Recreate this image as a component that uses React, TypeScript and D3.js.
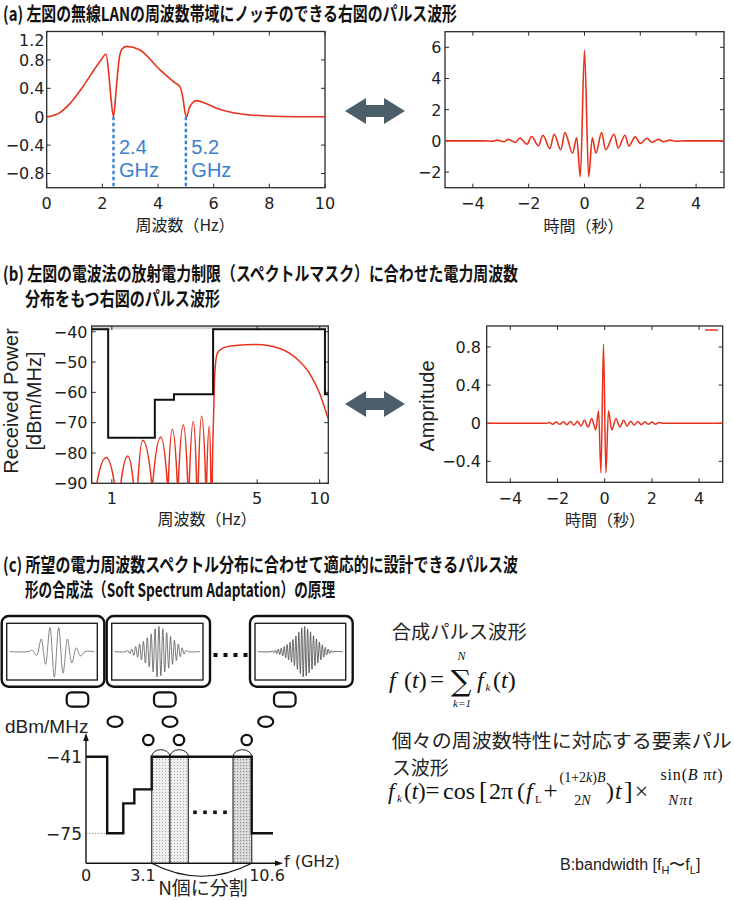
import React from 'react';
import * as d3 from 'd3';

// ---------------- Data ----------------
// (a) left: spectrum with notches
const specA_f = [0, 0.4, 0.8, 1.26, 1.6, 1.92, 2.13, 2.22, 2.3, 2.4, 2.5, 2.6, 2.7, 2.87, 3.35, 4.07, 4.6, 4.79, 4.9, 4.97, 5.03, 5.12, 5.25, 5.39, 5.7, 6.1, 6.7, 7.3, 7.9, 9, 10];
const specA_v = [0, 0.04, 0.17, 0.4, 0.6, 0.78, 0.88, 0.65, 0.3, 0.0, 0.4, 0.8, 0.95, 0.99, 0.94, 0.66, 0.48, 0.42, 0.25, 0.06, 0.0, 0.12, 0.2, 0.226, 0.19, 0.12, 0.056, 0.025, 0.01, 0, 0];
const notchFreqs = [2.4, 5.0];
const notchLabels = ['2.4', '5.2'];
const specA_xTicks = [0, 2, 4, 6, 8, 10];
const specA_yTicks = [-0.8, -0.4, 0, 0.4, 0.8, 1.2];

// (a) right: pulse waveform
const pulseA_t = [-5, -3.6, -3.3, -3.14, -2.88, -2.74, -2.47, -2.32, -2.06, -1.9, -1.65, -1.49, -1.24, -1.09, -0.85, -0.7, -0.43, -0.28, -0.15, 0, 0.15, 0.28, 0.41, 0.61, 0.76, 1.06, 1.21, 1.45, 1.59, 1.82, 2.0, 2.24, 2.41, 2.65, 2.82, 3.06, 3.3, 3.6, 5];
const pulseA_v = [0, 0, -0.02, 0.05, -0.05, 0.1, -0.1, 0.19, -0.21, 0.28, -0.32, 0.36, -0.5, 0.43, -0.57, 0.53, -0.79, 0.2, -2.3, 5.8, -2.3, 0.2, -0.79, 0.53, -0.57, 0.43, -0.45, 0.36, -0.32, 0.26, -0.17, 0.17, -0.1, 0.1, -0.05, 0.05, -0.02, 0, 0];
const pulseA_xTicks = [-4, -2, 0, 2, 4];
const pulseA_yTicks = [-2, 0, 2, 4, 6];

// (b) left: received power spectrum (log freq) and spectral mask
const specB_f = [0.8, 0.847, 0.939, 1.029, 1.067, 1.105, 1.193, 1.27, 1.3, 1.333, 1.409, 1.556, 1.564, 1.573, 1.719, 1.849, 1.859, 1.869, 1.954, 2.065, 2.076, 2.088, 2.207, 2.317, 2.337, 2.358, 2.465, 2.559, 2.58, 2.604, 2.704, 2.827, 2.842, 2.858, 2.942, 2.997, 3.02, 3.04, 3.087, 3.132, 3.214, 3.435, 3.835, 4.968, 6.427, 7.727, 8.954, 10.0, 10.97];
const specB_v = [-110, -90, -81.5, -90, -110, -90, -81, -90, -110, -90, -75.8, -90, -110, -90, -74.7, -90, -110, -90, -72.2, -90, -110, -90, -70.7, -90, -110, -90, -69.6, -90, -110, -90, -67.9, -90, -110, -90, -71.2, -90, -110, -90, -67.5, -53.2, -47.2, -45.3, -44.6, -44.2, -45.5, -48.8, -53.8, -60.4, -68.6];
const maskB_f = [0.8, 0.96, 1.61, 1.99, 3.07, 10.6, 11];
const maskB_v = [-39.2, -75, -62.4, -60.6, -39.2, -60.6, -60.6];
const specB_xTicks = [1, 5, 10];
const specB_yTicks = [-90, -80, -70, -60, -50, -40];

// (b) right: pulse waveform
const pulseB_t = [-5, -2.45, -2.35, -2.2, -2.05, -1.9, -1.75, -1.6, -1.45, -1.3, -1.15, -1.0, -0.86, -0.7, -0.55, -0.38, -0.26, -0.16, -0.05, 0.05, 0.16, 0.3, 0.48, 0.64, 0.8, 0.95, 1.1, 1.25, 1.4, 1.55, 1.7, 1.85, 2.0, 2.15, 2.3, 2.45, 5];
const pulseB_v = [0, 0, 0.008, -0.01, 0.012, -0.012, 0.015, -0.015, 0.018, -0.02, 0.02, -0.03, 0.03, -0.04, 0.05, -0.07, 0.13, -0.52, 0.83, -0.52, 0.13, -0.07, 0.05, -0.04, 0.03, -0.03, 0.02, -0.02, 0.018, -0.015, 0.015, -0.012, 0.012, -0.01, 0.008, 0, 0];
const pulseB_xTicks = [-4, -2, 0, 2, 4];
const pulseB_yTicks = [-0.4, 0, 0.4, 0.8];

// (c) element pulse thumbnails (extrema)
const thumb1 = [0.05, -0.15, 0.5, -0.5, 0.95, -1.0, 0.95, -0.85, 0.5, -0.45, 0.15, -0.17];
const thumb2 = [0.05, -0.08, 0.1, -0.15, 0.2, -0.22, 0.3, -0.32, 0.4, -0.45, 0.55, -0.6, 0.7, -0.8, 0.9, -1, 1, -0.95, 0.9, -0.8, 0.75, -0.65, 0.6, -0.5, 0.45, -0.35, 0.3, -0.2, 0.15, -0.1, 0.05];
const thumb3 = [0.03, -0.05, 0.06, -0.08, 0.1, -0.12, 0.14, -0.17, 0.2, -0.24, 0.28, -0.32, 0.37, -0.42, 0.48, -0.55, 0.62, -0.7, 0.78, -0.86, 0.94, -1, 1, -0.96, 0.9, -0.84, 0.78, -0.7, 0.63, -0.56, 0.5, -0.44, 0.38, -0.32, 0.27, -0.22, 0.17, -0.13, 0.1, -0.07, 0.05, -0.03];

// (c) schematic mask steps and N sub-bands
const stepF = [0, 1.0, 1.76, 2.28, 3.1, 10.6, 12.2];
const stepDb = [-41, -75, -61.7, -55.5, -41, -75, -75];
const stepLevelLabels = [-41, -75];
const stepFreqLabels = [0, 3.1, 10.6];
const bandStart = [3.1, 4.47, 9.2];
const bandEnd = [4.47, 5.85, 10.6];

// ---------------- Styles ----------------
const RED = '#e8321e';
const FR = '#2a2a2a';
const BLUE = '#3b7fcf';
const JP = '"Noto Sans CJK JP", "Noto Sans", sans-serif';
const TICKF = '"DejaVu Sans", sans-serif';
const LAT = '"Liberation Sans", Arial, sans-serif';
const SERIF = '"Liberation Serif", "DejaVu Serif", serif';

const fmt1 = (v: number) => (v === 0 ? '0' : d3.format('.1f')(v));
const fmt0 = (v: number) => d3.format('d')(v);

type FrameProps = {
  xs: any; ys: any; xTicks: number[]; yTicks: number[];
  fx: (v: number) => string; fy: (v: number) => string;
  yLabelRight: number; xLabelBase: number; topClamp?: number;
};

function Frame({ xs, ys, xTicks, yTicks, fx, fy, yLabelRight, xLabelBase, topClamp }: FrameProps) {
  const [x0, x1] = xs.range();
  const [yb, yt] = ys.range();
  const tl = 4;
  return (
    <g>
      <rect x={x0} y={yt} width={x1 - x0} height={yb - yt} fill="none" stroke={FR} strokeWidth={1.3} />
      {xTicks.map((t) => (
        <g key={'x' + t}>
          <line x1={xs(t)} x2={xs(t)} y1={yb} y2={yb - tl} stroke={FR} strokeWidth={1} />
          <line x1={xs(t)} x2={xs(t)} y1={yt} y2={yt + tl} stroke={FR} strokeWidth={1} />
          <text x={xs(t)} y={xLabelBase} textAnchor="middle" fontFamily={TICKF} fontSize={16} fill="#222">{fx(t)}</text>
        </g>
      ))}
      {yTicks.map((t) => {
        const ty = ys(t);
        const ly = topClamp !== undefined ? Math.max(ty, topClamp) : ty;
        return (
          <g key={'y' + t}>
            <line x1={x0} x2={x0 + tl} y1={ty} y2={ty} stroke={FR} strokeWidth={1} />
            <line x1={x1} x2={x1 - tl} y1={ty} y2={ty} stroke={FR} strokeWidth={1} />
            <text x={yLabelRight} y={ly + 5.8} textAnchor="end" fontFamily={TICKF} fontSize={16} fill="#222">{fy(t)}</text>
          </g>
        );
      })}
    </g>
  );
}

function DoubleArrow({ cx, cy }: { cx: number; cy: number }) {
  const L = 30, hl = 21, hh = 13, sh = 6;
  const pts = [
    [cx - L, cy], [cx - L + hl, cy - hh], [cx - L + hl, cy - sh], [cx + L - hl, cy - sh], [cx + L - hl, cy - hh],
    [cx + L, cy], [cx + L - hl, cy + hh], [cx + L - hl, cy + sh], [cx - L + hl, cy + sh], [cx - L + hl, cy + hh],
  ];
  return <polygon points={pts.map((p) => p.join(',')).join(' ')} fill="#4b5e6a" />;
}

function Thumb({ x, y, w, h, ix, iw, data, stroke, sw }: any) {
  const innerX = x + 5, innerY = y + 7.3, innerW = w - 12, innerH = h - 14;
  const cy = innerY + innerH / 2;
  const amp = innerH / 2 - 3;
  const n = data.length;
  const sx = d3.scaleLinear().domain([0, n + 1]).range([ix, ix + iw]);
  const pts: [number, number][] = [];
  pts.push([innerX + 3, 0]);
  pts.push([sx(0), 0]);
  data.forEach((v: number, i: number) => pts.push([sx(i + 1), v]));
  pts.push([sx(n + 1), 0]);
  pts.push([innerX + innerW - 3, 0]);
  const line = d3.line<[number, number]>().x((d) => d[0]).y((d) => cy - d[1] * amp).curve(d3.curveCatmullRom);
  return (
    <g>
      <rect x={x} y={y} width={w} height={h} rx={7} fill="white" stroke="#111" strokeWidth={2.4} />
      <rect x={innerX} y={innerY} width={innerW} height={innerH} fill="white" stroke="#222" strokeWidth={1.4} />
      <path d={line(pts) || ''} fill="none" stroke={stroke} strokeWidth={sw} />
    </g>
  );
}

export default function App() {
  const axL = d3.scaleLinear().domain([0, 10]).range([46.7, 325]);
  const ayL = d3.scaleLinear().domain([-1, 1.2]).range([187.7, 31.5]);
  const axR = d3.scaleLinear().domain([-5, 5]).range([445, 724]);
  const ayR = d3.scaleLinear().domain([-3, 7]).range([187.7, 31.7]);
  const bxL = d3.scaleLog().domain([0.8, 11]).range([91.7, 328.3]);
  const byL = d3.scaleLinear().domain([-90, -38.1]).range([483.3, 326]);
  const bxR = d3.scaleLinear().domain([-5, 5]).range([486.7, 722.7]);
  const byR = d3.scaleLinear().domain([-0.62, 1.02]).range([482.3, 326]);

  const mk = (xs: any, ys: any, curve: any) =>
    d3.line<[number, number]>().x((d) => xs(d[0])).y((d) => ys(d[1])).curve(curve);

  const specA = specA_f.map((f, i) => [f, specA_v[i]] as [number, number]);
  const pulseA = pulseA_t.map((t, i) => [t, pulseA_v[i]] as [number, number]);
  const specB = specB_f.map((f, i) => [f, specB_v[i]] as [number, number]);
  const maskB = maskB_f.map((f, i) => [f, maskB_v[i]] as [number, number]);
  const pulseB = pulseB_t.map((t, i) => [t, pulseB_v[i]] as [number, number]);

  const sX = d3.scaleLinear().domain([0, 3.1, 10.6, 12.2]).range([86, 151.7, 251.7, 273]);
  const sY = d3.scaleLinear().domain([-75, -41]).range([833.3, 756.7]);
  const baseY = 863.3;
  const stepPts = stepF.map((f, i) => [f, stepDb[i]] as [number, number]);
  const stepLine = d3.line<[number, number]>().x((d) => sX(d[0])).y((d) => sY(d[1])).curve(d3.curveStepAfter);

  const titleProps = { fontFamily: JP, fontSize: 19, fontWeight: 700, fill: '#111', lengthAdjust: 'spacingAndGlyphs' as const };

  return (
    <svg width={734} height={900} viewBox="0 0 734 900" style={{ position: 'absolute', left: 0, top: 0, background: 'white' }}>
      <defs>
        <clipPath id="cA1"><rect x={46.7} y={31.5} width={278.3} height={156.2} /></clipPath>
        <clipPath id="cA2"><rect x={445} y={31.7} width={279} height={156} /></clipPath>
        <clipPath id="cB1"><rect x={91.7} y={326} width={236.6} height={157.3} /></clipPath>
        <clipPath id="cB2"><rect x={486.7} y={326} width={236} height={156.3} /></clipPath>
        <pattern id="dots1" width={3} height={3} patternUnits="userSpaceOnUse">
          <rect width={3} height={3} fill="#eeeeee" />
          <rect width={1} height={1} fill="#aaaaaa" />
        </pattern>
        <pattern id="dots2" width={3} height={3} patternUnits="userSpaceOnUse">
          <rect width={3} height={3} fill="#dddddd" />
          <rect width={1.2} height={1.2} fill="#8a8a8a" />
        </pattern>
      </defs>
      <rect x={0} y={0} width={734} height={900} fill="white" />

      {/* ---------- Titles ---------- */}
      <text x={3} y={21} textLength={454} {...titleProps}>(a) 左図の無線LANの周波数帯域にノッチのできる右図のパルス波形</text>
      <text x={3} y={281} textLength={515} {...titleProps}>(b) 左図の電波法の放射電力制限（スペクトルマスク）に合わせた電力周波数</text>
      <text x={25} y={306} textLength={195} {...titleProps}>分布をもつ右図のパルス波形</text>
      <text x={3} y={572} textLength={515} {...titleProps}>(c) 所望の電力周波数スペクトル分布に合わせて適応的に設計できるパルス波</text>
      <text x={25} y={597} textLength={310} {...titleProps}>形の合成法（Soft Spectrum Adaptation）の原理</text>

      {/* ---------- (a) left ---------- */}
      <Frame xs={axL} ys={ayL} xTicks={specA_xTicks} yTicks={specA_yTicks} fx={fmt0} fy={fmt1} yLabelRight={44.5} xLabelBase={209} topClamp={40} />
      <g clipPath="url(#cA1)">
        <path d={mk(axL, ayL, d3.curveMonotoneX)(specA) || ''} fill="none" stroke={RED} strokeWidth={1.6} />
      </g>
      {notchFreqs.map((f, i) => (
        <g key={'n' + i}>
          <line x1={axL(f)} x2={axL(f)} y1={ayL(0)} y2={187.7} stroke={BLUE} strokeWidth={2.4} strokeDasharray="3.5,2.5" />
          <text x={axL(f) + 5.5} y={154} fontFamily={LAT} fontSize={20} fill={BLUE}>{notchLabels[i]}</text>
          <text x={axL(f) + 5.5} y={177} fontFamily={LAT} fontSize={20} fill={BLUE}>GHz</text>
        </g>
      ))}
      <text x={185} y={231} textAnchor="middle" fontFamily={JP} fontSize={16} fill="#222">周波数（Hz）</text>

      <DoubleArrow cx={375} cy={111} />

      {/* ---------- (a) right ---------- */}
      <Frame xs={axR} ys={ayR} xTicks={pulseA_xTicks} yTicks={pulseA_yTicks} fx={fmt0} fy={fmt0} yLabelRight={441.5} xLabelBase={209} />
      <g clipPath="url(#cA2)">
        <path d={mk(axR, ayR, d3.curveMonotoneX)(pulseA) || ''} fill="none" stroke={RED} strokeWidth={1.6} />
      </g>
      <text x={583.5} y={232} textAnchor="middle" fontFamily={JP} fontSize={16} fill="#222">時間（秒）</text>

      {/* ---------- (b) left ---------- */}
      <rect x={91.7} y={326} width={236.6} height={byL(-39.2) - 326} fill="#d4d4d4" />
      <Frame xs={bxL} ys={byL} xTicks={specB_xTicks} yTicks={specB_yTicks} fx={fmt0} fy={fmt0} yLabelRight={87.5} xLabelBase={504} />
      <g clipPath="url(#cB1)">
        <path d={mk(bxL, byL, d3.curveMonotoneX)(specB) || ''} fill="none" stroke={RED} strokeWidth={1.5} />
        <path d={mk(bxL, byL, d3.curveStepAfter)(maskB) || ''} fill="none" stroke="#111" strokeWidth={2} />
      </g>
      <text transform="translate(17.5,401) rotate(-90)" textAnchor="middle" fontFamily={LAT} fontSize={20} fill="#222">Received Power</text>
      <text transform="translate(41,401) rotate(-90)" textAnchor="middle" fontFamily={LAT} fontSize={20} fill="#222">[dBm/MHz]</text>
      <text x={207} y={525} textAnchor="middle" fontFamily={JP} fontSize={16} fill="#222">周波数（Hz）</text>

      <DoubleArrow cx={375} cy={404} />

      {/* ---------- (b) right ---------- */}
      <Frame xs={bxR} ys={byR} xTicks={pulseB_xTicks} yTicks={pulseB_yTicks} fx={fmt0} fy={fmt1} yLabelRight={481} xLabelBase={503.5} />
      <g clipPath="url(#cB2)">
        <path d={mk(bxR, byR, d3.curveMonotoneX)(pulseB) || ''} fill="none" stroke={RED} strokeWidth={1.5} />
      </g>
      <line x1={705} x2={718} y1={330} y2={330} stroke={RED} strokeWidth={1.5} />
      <text transform="translate(434,406) rotate(-90)" textAnchor="middle" fontFamily={LAT} fontSize={20} fill="#222">Ampritude</text>
      <text x={605} y={525.5} textAnchor="middle" fontFamily={JP} fontSize={16} fill="#222">時間（秒）</text>

      {/* ---------- (c) thumbnails ---------- */}
      <Thumb x={1.7} y={616} w={102.6} h={70.7} ix={28} iw={57} data={thumb1} stroke="#777" sw={0.9} />
      <Thumb x={106.7} y={616} w={103.3} h={70.7} ix={126} iw={62} data={thumb2} stroke="#555" sw={0.8} />
      <Thumb x={250} y={616} w={102.7} h={70.7} ix={271} iw={63} data={thumb3} stroke="#444" sw={0.8} />
      {[215.5, 225.5, 235.5, 245.5].map((x) => (
        <rect key={'d' + x} x={x - 2} y={653} width={4} height={4} fill="#111" />
      ))}

      {[
        { r: [66.7, 692.3], e: [115, 721.7], c: [148.3, 740] },
        { r: [154, 692.3], e: [170, 721.7], c: [179, 740] },
        { r: [274, 692.3], e: [265.7, 721.7], c: [246.7, 740] },
      ].map((b, i) => (
        <g key={'b' + i} fill="white" stroke="#111" strokeWidth={2.2}>
          <rect x={b.r[0]} y={b.r[1]} width={21.6} height={14.4} rx={5} />
          <ellipse cx={b.e[0]} cy={b.e[1]} rx={7.5} ry={5.2} />
          <circle cx={b.c[0]} cy={b.c[1]} r={5.2} />
        </g>
      ))}

      {/* ---------- (c) schematic spectrum ---------- */}
      {bandStart.map((b0, i) => (
        <g key={'band' + i}>
          <rect x={sX(b0)} y={sY(-41)} width={sX(bandEnd[i]) - sX(b0)} height={baseY - sY(-41)} fill={i === 2 ? 'url(#dots2)' : 'url(#dots1)'} />
          <line x1={sX(b0)} x2={sX(b0)} y1={sY(-41)} y2={baseY} stroke="#444" strokeWidth={1.3} />
          <line x1={sX(bandEnd[i])} x2={sX(bandEnd[i])} y1={sY(-41)} y2={baseY} stroke="#444" strokeWidth={1.3} />
          <path d={`M${sX(b0)},${sY(-41)} A${(sX(bandEnd[i]) - sX(b0)) / 2},7 0 0 1 ${sX(bandEnd[i])},${sY(-41)}`} fill="none" stroke="#222" strokeWidth={1} />
        </g>
      ))}
      <line x1={86} x2={sX(1.0)} y1={sY(-75)} y2={sY(-75)} stroke="#777" strokeWidth={0.8} strokeDasharray="1.5,1.5" />
      <path d={stepLine(stepPts) || ''} fill="none" stroke="#111" strokeWidth={2.4} />
      {[195, 205, 215, 225].map((x) => (
        <rect key={'sd' + x} x={x - 1.8} y={810.5} width={3.6} height={3.6} fill="#111" />
      ))}
      <line x1={86} x2={86} y1={baseY} y2={738} stroke="#111" strokeWidth={1.4} />
      <polygon points={`86,733 83.2,741 88.8,741`} fill="#111" />
      <line x1={86} x2={278} y1={baseY} y2={baseY} stroke="#111" strokeWidth={1.4} />
      <polygon points={`283,${baseY} 275,${baseY - 2.8} 275,${baseY + 2.8}`} fill="#111" />
      <path d={`M${sX(3.1)},${baseY} Q${(sX(3.1) + sX(10.6)) / 2},${baseY + 26} ${sX(10.6)},${baseY}`} fill="none" stroke="#111" strokeWidth={1.1} />
      <text x={5} y={733} fontFamily={LAT} fontSize={19} fill="#222">dBm/MHz</text>
      {stepLevelLabels.map((v) => (
        <text key={'lv' + v} x={82} y={sY(v) + 6.2} textAnchor="end" fontFamily={TICKF} fontSize={17} fill="#222">{d3.format('d')(v)}</text>
      ))}
      {stepFreqLabels.map((f) => (
        <text key={'fl' + f} x={f === 3.1 ? 143 : f === 10.6 ? 267 : 86} y={881} textAnchor="middle" fontFamily={TICKF} fontSize={16} fill="#222">{f === 0 ? '0' : d3.format('.1f')(f)}</text>
      ))}
      <text x={284} y={866.5} fontFamily={TICKF} fontSize={16} fill="#222">f (GHz)</text>
      <text x={203} y={895} textAnchor="middle" fontFamily={JP} fontSize={19} fill="#222">N個に分割</text>

      {/* ---------- (c) right: formulas ---------- */}
      <text x={391.7} y={639} textLength={135} lengthAdjust="spacingAndGlyphs" fontFamily={JP} fontSize={19} fill="#222">合成パルス波形</text>
      <g fontFamily={SERIF} fill="#111">
        <text x={389} y={688} fontSize={24} fontStyle="italic">f</text>
        <text x={404} y={688} fontSize={24}>(<tspan fontStyle="italic">t</tspan>)</text>
        <text x={437} y={688} fontSize={25} textAnchor="middle">=</text>
        <text x={461} y={691} fontSize={29} textAnchor="middle" fontFamily='"DejaVu Serif", serif'>∑</text>
        <text x={461.5} y={660} fontSize={12} fontStyle="italic" textAnchor="middle">N</text>
        <text x={462} y={707} fontSize={11} fontStyle="italic" textAnchor="middle">k=1</text>
        <text x={477} y={688} fontSize={24} fontStyle="italic">f</text>
        <text x={485.5} y={691} fontSize={11} fontStyle="italic">k</text>
        <text x={493} y={688} fontSize={24}>(<tspan fontStyle="italic">t</tspan>)</text>
      </g>

      <text x={391.7} y={747.5} textLength={340} lengthAdjust="spacingAndGlyphs" fontFamily={JP} fontSize={19} fill="#222">個々の周波数特性に対応する要素パル</text>
      <text x={391.7} y={774.5} fontFamily={JP} fontSize={19} fill="#222">ス波形</text>
      <g fontFamily={SERIF} fill="#111">
        <text x={388} y={799} fontSize={23} fontStyle="italic">f</text>
        <text x={397} y={802} fontSize={11} fontStyle="italic">k</text>
        <text x={404} y={799} fontSize={23}>(<tspan fontStyle="italic">t</tspan>)</text>
        <text x={432.5} y={799} fontSize={25} textAnchor="middle">=</text>
        <text x={443} y={799} fontSize={24}>cos</text>
        <text x={479} y={799} fontSize={26}>[</text>
        <text x={489} y={799} fontSize={24}>2π</text>
        <text x={517} y={799} fontSize={24}>(</text>
        <text x={526} y={799} fontSize={24} fontStyle="italic">f</text>
        <text x={535} y={803} fontSize={11}>L</text>
        <text x={550.5} y={799} fontSize={25} textAnchor="middle">+</text>
        <text x={582.5} y={782} fontSize={14} textAnchor="middle">(1+2<tspan fontStyle="italic">k</tspan>)<tspan fontStyle="italic">B</tspan></text>
        <text x={582.5} y={805} fontSize={14} textAnchor="middle">2<tspan fontStyle="italic">N</tspan></text>
        <text x={606} y={799} fontSize={24}>)</text>
        <text x={615} y={799} fontSize={24} fontStyle="italic">t</text>
        <text x={624} y={799} fontSize={26}>]</text>
        <text x={641.5} y={799} fontSize={24} textAnchor="middle">×</text>
        <text x={692} y={780} fontSize={16} textAnchor="middle" letterSpacing={0.8}>sin(<tspan fontStyle="italic">B</tspan> π<tspan fontStyle="italic">t</tspan>)</text>
        <text x={681} y={805} fontSize={15} textAnchor="middle" fontStyle="italic" letterSpacing={1.2}>Nπt</text>
      </g>

      <text x={560} y={870} fontFamily={LAT} fontSize={16} fill="#222">
        B:bandwidth [f<tspan fontSize={11} dy={4}>H</tspan><tspan dy={-4}>〜f</tspan><tspan fontSize={11} dy={4}>L</tspan><tspan dy={-4}>]</tspan>
      </text>
    </svg>
  );
}
